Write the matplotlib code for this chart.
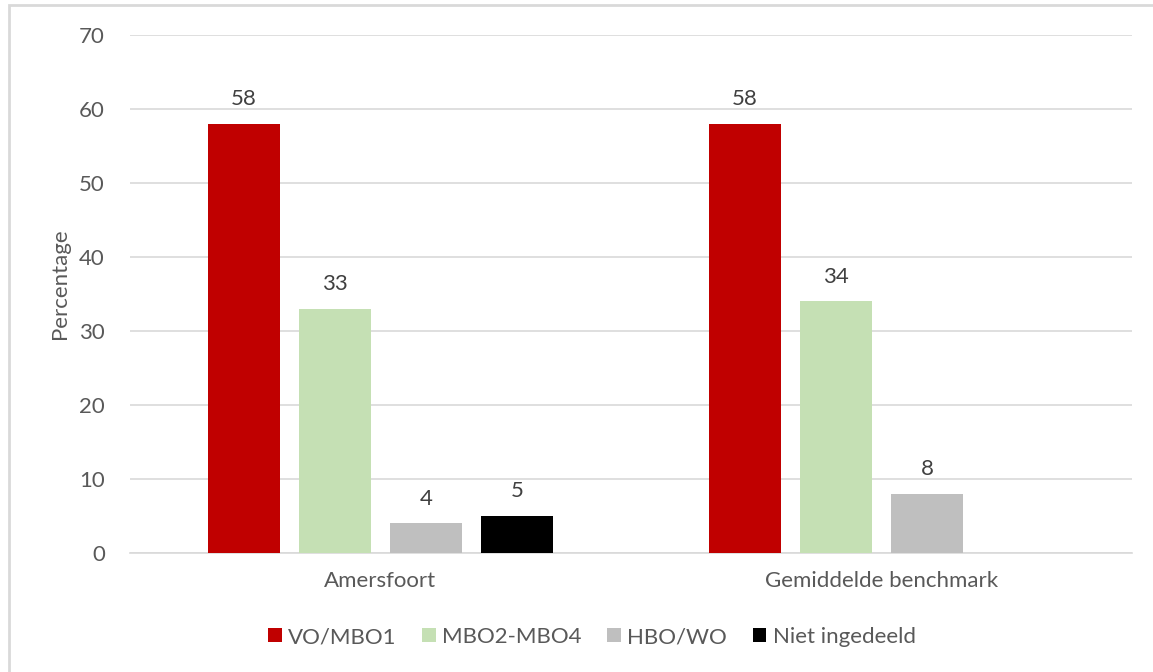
import matplotlib.pyplot as plt
from matplotlib.patches import Rectangle
import numpy as np

groups = ['Amersfoort', 'Gemiddelde benchmark']
series = ['VO/MBO1', 'MBO2-MBO4', 'HBO/WO', 'Niet ingedeeld']
values = [
    [58, 58],
    [33, 34],
    [4, 8],
    [5, None],
]
colors = ['#C00000', '#C5E0B4', '#BFBFBF', '#000000']

plt.rcParams['font.family'] = ['Lato', 'DejaVu Sans']
txt = '#595959'
fs = 16

fig = plt.figure(figsize=(11.53, 6.72), dpi=100)
ax = fig.add_axes([130/1153, 1-553/672, (1132-130)/1153, (553-35)/672])

# outer chart border like the excel frame
fig.patches.append(Rectangle((9/1153, -0.01), 1.2, 1-5/672+0.01, transform=fig.transFigure,
                             fill=False, edgecolor='#D9D9D9', linewidth=2))

x = np.arange(len(groups))
step = 91/501
width = 72/501
for i, (name, vals, c) in enumerate(zip(series, values, colors)):
    off = (i - 1.5) * step
    xs = [xx + off for xx, v in zip(x, vals) if v is not None]
    vs = [v for v in vals if v is not None]
    bars = ax.bar(xs, vs, width, color=c, label=name, zorder=3)
    for b, v in zip(bars, vs):
        ax.text(b.get_x() + b.get_width()/2, v + 2.0, str(v), ha='center', va='bottom',
                fontsize=fs, color='#404040')

ax.set_xlim(-0.5, 1.5)
ax.set_ylim(0, 70)
ax.set_yticks(range(0, 71, 10))
ax.set_xticks(x)
ax.set_xticklabels(groups)
ax.grid(axis='y', color='#D9D9D9', linewidth=1.2, zorder=0)
for s in ['top', 'right', 'left']:
    ax.spines[s].set_visible(False)
ax.spines['bottom'].set_color('#D9D9D9')
ax.spines['bottom'].set_linewidth(1.2)
ax.tick_params(axis='both', length=0, labelsize=fs, labelcolor=txt)
ax.tick_params(axis='y', pad=18)
ax.tick_params(axis='x', pad=13)
ax.set_ylabel('Percentage', fontsize=fs, color=txt, va='center')
ax.yaxis.set_label_coords(-0.07, 0.52)

fig.legend(loc='center', bbox_to_anchor=(592/1153, 1-637/672), ncol=4, frameon=False,
           fontsize=fs, labelcolor=txt, handlelength=0.6, handleheight=0.6,
           handletextpad=0.3, columnspacing=1.15)

fig.savefig('out.png', dpi=100)
